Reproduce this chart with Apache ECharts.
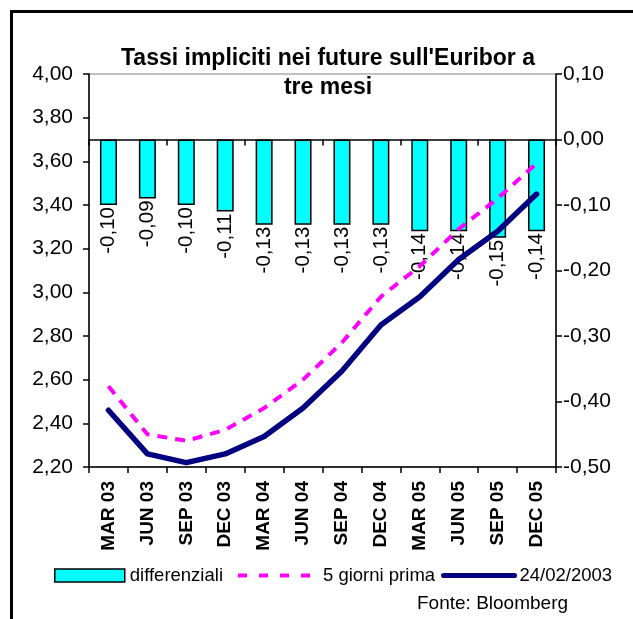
<!DOCTYPE html>
<html>
<head>
<meta charset="utf-8">
<script src="https://cdn.jsdelivr.net/npm/echarts@6/dist/echarts.min.js"></script>
<style>
  html, body { margin: 0; padding: 0; background: #ffffff; }
  #chart { width: 633px; height: 619px; }
</style>
</head>
<body>
<div id="chart"></div>
<script>
// Scadenze dei future sull'Euribor a tre mesi
const categories = ['MAR 03', 'JUN 03', 'SEP 03', 'DEC 03', 'MAR 04', 'JUN 04',
                    'SEP 04', 'DEC 04', 'MAR 05', 'JUN 05', 'SEP 05', 'DEC 05'];
// Differenziali tra le due curve (asse destro)
const differenziali = [-0.10, -0.09, -0.10, -0.11, -0.13, -0.13,
                       -0.13, -0.13, -0.14, -0.14, -0.15, -0.14];
// Tassi impliciti cinque giorni prima (asse sinistro)
const cinqueGiorniPrima = [2.57, 2.35, 2.32, 2.37, 2.47, 2.60,
                           2.77, 2.98, 3.12, 3.29, 3.43, 3.59];
// Tassi impliciti al 24/02/2003 (asse sinistro)
const tassi24022003 = [2.46, 2.26, 2.22, 2.26, 2.34, 2.47,
                       2.64, 2.85, 2.98, 3.15, 3.28, 3.45];
// Tacche degli assi
const leftTicks = [2.20, 2.40, 2.60, 2.80, 3.00, 3.20, 3.40, 3.60, 3.80, 4.00];
const rightTicks = [-0.50, -0.40, -0.30, -0.20, -0.10, 0.00, 0.10];

const FONT = "'Liberation Sans', Arial, sans-serif";
const fmt = v => v.toFixed(2).replace('.', ',');
const legendText = { fontFamily: FONT, fontSize: 18.5, color: '#000' };

const chart = echarts.init(document.getElementById('chart'), null, { renderer: 'canvas' });

chart.setOption({
  animation: false,
  backgroundColor: '#ffffff',
  textStyle: { fontFamily: FONT, color: '#000' },
  title: [
    {
      text: "Tassi impliciti nei future sull'Euribor a\ntre mesi",
      left: 328, top: 44, textAlign: 'center', padding: 0,
      textStyle: { fontFamily: FONT, fontSize: 23, fontWeight: 'bold', color: '#000', lineHeight: 29 }
    },
    {
      text: 'Fonte: Bloomberg',
      left: 417, top: 594, padding: 0,
      textStyle: { fontFamily: FONT, fontSize: 19, fontWeight: 'normal', color: '#000' }
    }
  ],
  graphic: [
    {
      type: 'rect', silent: true, z: 100,
      shape: { x: 11.5, y: 11.5, width: 700, height: 700 },
      style: { fill: 'none', stroke: '#000', lineWidth: 3 }
    }
  ],
  legend: [
    {
      left: 54, top: 566, padding: 0,
      itemWidth: 70, itemHeight: 13,
      textStyle: legendText,
      data: [
        { name: 'differenziali', icon: 'rect',
          itemStyle: { color: '#00FFFF', borderColor: '#000', borderWidth: 1.5 } }
      ]
    },
    {
      left: 236, top: 566, padding: 0,
      itemWidth: 80, itemHeight: 13,
      textStyle: legendText,
      data: [
        { name: '5 giorni prima',
          itemStyle: { opacity: 0 },
          lineStyle: { color: '#FF00FF', width: 4, type: [9, 12] } }
      ]
    },
    {
      left: 441, top: 566, padding: 0,
      itemWidth: 71, itemHeight: 13,
      textStyle: legendText,
      data: [
        { name: '24/02/2003',
          itemStyle: { opacity: 0 },
          lineStyle: { color: '#000080', width: 5, cap: 'round' } }
      ]
    }
  ],
  grid: {
    left: 89, right: 77, top: 74, bottom: 152,
    show: true, borderColor: '#808080', borderWidth: 1, backgroundColor: 'transparent'
  },
  xAxis: [
    {
      type: 'category', data: categories, position: 'bottom',
      axisLine: { onZero: false, lineStyle: { color: '#000', width: 1.5 } },
      axisTick: { show: true, length: 6, lineStyle: { color: '#000', width: 1.5 } },
      axisLabel: { rotate: 90, margin: 14, fontFamily: FONT, fontSize: 19, fontWeight: 'bold', color: '#000' },
      splitLine: { show: false }
    },
    {
      // linea dello zero dei differenziali
      type: 'category', data: categories, position: 'top',
      axisLine: { onZero: true, onZeroAxisIndex: 1, lineStyle: { color: '#000', width: 1.5 } },
      axisTick: { show: true, inside: true, length: 6, lineStyle: { color: '#000', width: 1.5 } },
      axisLabel: { show: false },
      splitLine: { show: false }
    }
  ],
  yAxis: [
    {
      type: 'value', position: 'left',
      min: leftTicks[0], max: leftTicks[leftTicks.length - 1],
      interval: +(leftTicks[1] - leftTicks[0]).toFixed(2),
      axisLine: { show: true, lineStyle: { color: '#000', width: 1.5 } },
      axisTick: { show: true, length: 6, lineStyle: { color: '#000', width: 1.5 } },
      axisLabel: { margin: 16, fontFamily: FONT, fontSize: 21, color: '#000', formatter: fmt },
      splitLine: { show: false }
    },
    {
      type: 'value', position: 'right',
      min: rightTicks[0], max: rightTicks[rightTicks.length - 1],
      interval: +(rightTicks[1] - rightTicks[0]).toFixed(2),
      axisLine: { show: true, lineStyle: { color: '#000', width: 1.5 } },
      axisTick: { show: true, length: 6, lineStyle: { color: '#000', width: 1.5 } },
      axisLabel: { margin: 7, fontFamily: FONT, fontSize: 21, color: '#000', formatter: fmt },
      splitLine: { show: false }
    }
  ],
  series: [
    {
      name: 'differenziali', type: 'bar',
      xAxisIndex: 0, yAxisIndex: 1,
      data: differenziali, barWidth: 17,
      itemStyle: { color: '#00FFFF', borderColor: '#000', borderWidth: 1.5 },
      label: {
        show: true, position: 'bottom', distance: 2, rotate: 90,
        align: 'right', verticalAlign: 'middle',
        fontFamily: FONT, fontSize: 20.5, color: '#000',
        formatter: p => fmt(p.value)
      },
      z: 2
    },
    {
      name: '5 giorni prima', type: 'line',
      xAxisIndex: 0, yAxisIndex: 0,
      data: cinqueGiorniPrima, symbol: 'none',
      lineStyle: { color: '#FF00FF', width: 4, type: [10, 8] },
      itemStyle: { color: '#FF00FF' },
      z: 3
    },
    {
      name: '24/02/2003', type: 'line',
      xAxisIndex: 0, yAxisIndex: 0,
      data: tassi24022003, symbol: 'none',
      lineStyle: { color: '#000080', width: 5.5, cap: 'round', join: 'round' },
      itemStyle: { color: '#000080' },
      z: 4
    }
  ]
});
</script>
</body>
</html>
